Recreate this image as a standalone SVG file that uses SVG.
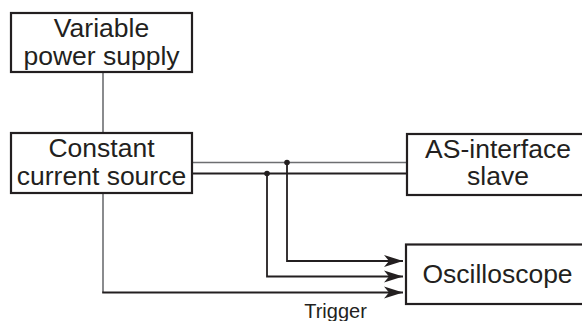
<svg xmlns="http://www.w3.org/2000/svg" width="582" height="321" viewBox="0 0 582 321">
<defs>
<style>
.box{fill:#fff;stroke:#231f20;stroke-width:2.2}
.t{font-family:"Liberation Sans",Arial,sans-serif;font-size:26.5px;fill:#231f20;text-anchor:middle}
.g{fill:none;stroke:#6d6e71;stroke-width:1.6}
.k{fill:none;stroke:#231f20;stroke-width:1.8}
</style>
<marker id="ah" markerWidth="22" markerHeight="14" refX="19" refY="7" orient="auto" markerUnits="userSpaceOnUse">
<path d="M0,1 L19,7 L0,13 L5,7 Z" fill="#231f20"/>
</marker>
</defs>
<rect width="582" height="321" fill="#fff"/>
<g id="connectors">
<line class="g" x1="103" y1="72" x2="103" y2="133"/>
<line class="g" x1="192" y1="162.5" x2="407" y2="162.5"/>
<line class="k" x1="192" y1="173.5" x2="407" y2="173.5"/>
<polyline class="k" points="287,162.5 287,261 403,261" marker-end="url(#ah)"/>
<polyline class="k" points="267,173.5 267,276.5 403,276.5" marker-end="url(#ah)"/>
<line class="g" x1="103" y1="193" x2="103" y2="292.5"/>
<line class="k" x1="102.2" y1="292.5" x2="403" y2="292.5" marker-end="url(#ah)"/>
<circle cx="287" cy="162.5" r="2.8" fill="#231f20"/>
<circle cx="267" cy="173.5" r="2.8" fill="#231f20"/>
<text x="335.5" y="318" font-family="Liberation Sans,Arial,sans-serif" font-size="20" fill="#231f20" text-anchor="middle">Trigger</text>
</g>
<g id="vps">
<rect class="box" x="11" y="13" width="181" height="59"/>
<text class="t" x="101.5" y="37">Variable</text>
<text class="t" x="101.5" y="65">power supply</text>
</g>
<g id="ccs">
<rect class="box" x="11" y="133" width="181" height="60"/>
<text class="t" x="101.5" y="157">Constant</text>
<text class="t" x="101.5" y="185">current source</text>
</g>
<g id="asi">
<rect class="box" x="407" y="134" width="190" height="61"/>
<text class="t" x="498" y="158">AS-interface</text>
<text class="t" x="498" y="185">slave</text>
</g>
<g id="osc">
<rect class="box" x="406" y="244.5" width="190" height="59.5"/>
<text class="t" x="497.5" y="283">Oscilloscope</text>
</g>
</svg>
